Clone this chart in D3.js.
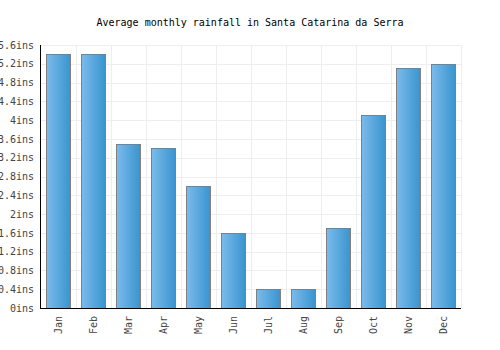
<!DOCTYPE html>
<html>
<head>
<meta charset="utf-8">
<script src="https://cdn.jsdelivr.net/npm/d3@7"></script>
<style>
  body { margin: 0; background: #fff; }
  text { font-family: "DejaVu Sans Mono", monospace; font-size: 10px; fill: #444; }
</style>
</head>
<body>
<svg width="500" height="350"></svg>
<script>
var months = ['Jan', 'Feb', 'Mar', 'Apr', 'May', 'Jun', 'Jul', 'Aug', 'Sep', 'Oct', 'Nov', 'Dec'];
var rainfall = [5.4, 5.4, 3.5, 3.4, 2.6, 1.6, 0.4, 0.4, 1.7, 4.1, 5.1, 5.2];
var yTicks = [0, 0.4, 0.8, 1.2, 1.6, 2, 2.4, 2.8, 3.2, 3.6, 4, 4.4, 4.8, 5.2, 5.6];
var title = 'Average monthly rainfall in Santa Catarina da Serra';

var svg = d3.select('svg');
var padding = {t: 45, r: 39, b: 42, l: 41};
var chartWidth = +svg.attr('width') - padding.l - padding.r;
var chartHeight = +svg.attr('height') - padding.t - padding.b;

// Gradient for the bars
var grad = svg.append('defs').append('linearGradient')
    .attr('id', 'barGrad')
    .attr('x1', '0%').attr('x2', '100%').attr('y1', '0%').attr('y2', '0%');
grad.append('stop').attr('offset', '0%').attr('stop-color', '#7bbbec');
grad.append('stop').attr('offset', '100%').attr('stop-color', '#3994cf');

svg.append('text')
    .attr('x', 250)
    .attr('y', 26)
    .attr('text-anchor', 'middle')
    .style('fill', '#000')
    .text(title);

var chartG = svg.append('g')
    .attr('transform', 'translate(' + [padding.l, padding.t] + ')');

var xScale = d3.scaleBand()
    .domain(months)
    .range([0, chartWidth])
    .paddingInner(0.31)
    .paddingOuter(0.155);

var yScale = d3.scaleLinear()
    .domain([0, 5.6])
    .range([chartHeight, 0]);

// Horizontal grid lines
chartG.selectAll('.hgrid')
    .data(yTicks)
    .enter().append('line')
    .attr('class', 'hgrid')
    .attr('x1', 0).attr('x2', chartWidth)
    .attr('y1', function(d) { return Math.round(yScale(d)) + 0.5; })
    .attr('y2', function(d) { return Math.round(yScale(d)) + 0.5; })
    .style('stroke', '#eeeeee');

// Vertical grid lines between months
var step = xScale.step();
chartG.selectAll('.vgrid')
    .data(d3.range(1, months.length + 1))
    .enter().append('line')
    .attr('class', 'vgrid')
    .attr('x1', function(d) { return Math.round(d * step) + 0.5; })
    .attr('x2', function(d) { return Math.round(d * step) + 0.5; })
    .attr('y1', 0).attr('y2', chartHeight)
    .style('stroke', '#eeeeee');

// Bars
chartG.selectAll('.bar')
    .data(rainfall)
    .enter().append('rect')
    .attr('class', 'bar')
    .attr('x', function(d, i) { return Math.round(xScale(months[i])) + 0.5; })
    .attr('y', function(d) { return Math.round(yScale(d)) + 0.5; })
    .attr('width', Math.round(xScale.bandwidth()))
    .attr('height', function(d) { return chartHeight - Math.round(yScale(d)); })
    .style('fill', 'url(#barGrad)')
    .style('stroke', '#808080')
    .style('stroke-width', 1);

// Y axis labels
var yAxis = d3.axisLeft(yScale)
    .tickValues(yTicks)
    .tickSize(0)
    .tickPadding(7)
    .tickFormat(function(d) { return d + 'ins'; });
var yG = chartG.append('g').call(yAxis);
yG.select('.domain').remove();
yG.selectAll('text').style('font-family', '"DejaVu Sans Mono", monospace').style('font-size', '10px').style('fill', '#444');

// X axis labels
var xAxis = d3.axisBottom(xScale).tickSize(0).tickPadding(0);
var xG = chartG.append('g')
    .attr('transform', 'translate(0,' + chartHeight + ')')
    .call(xAxis);
xG.select('.domain').remove();
xG.selectAll('text')
    .attr('transform', 'rotate(-90)')
    .attr('x', -8)
    .attr('y', 0)
    .attr('dy', '0.35em')
    .style('text-anchor', 'end')
    .style('font-family', '"DejaVu Sans Mono", monospace')
    .style('font-size', '10px')
    .style('fill', '#444');

// Axis lines
chartG.append('line')
    .attr('x1', -0.5).attr('x2', -0.5)
    .attr('y1', 0).attr('y2', chartHeight + 1)
    .style('stroke', '#000');
chartG.append('line')
    .attr('x1', -1).attr('x2', chartWidth)
    .attr('y1', chartHeight + 0.5).attr('y2', chartHeight + 0.5)
    .style('stroke', '#000');
</script>
</body>
</html>
